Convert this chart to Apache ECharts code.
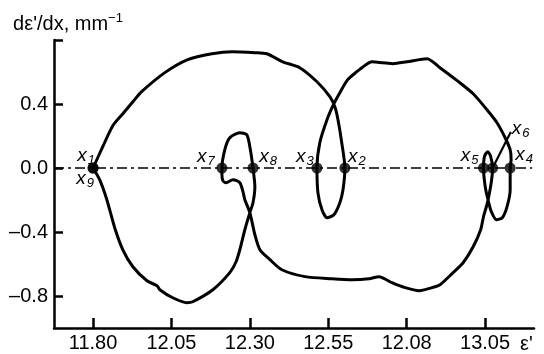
<!DOCTYPE html>
<html>
<head>
<meta charset="utf-8">
<script src="https://cdn.jsdelivr.net/npm/echarts@6/dist/echarts.min.js"></script>
<style>html,body{margin:0;padding:0;background:#fff;}#c{width:544px;height:354px;}</style>
</head>
<body>
<div id="c"></div>
<script>
// Phase-portrait curve (ε', dε'/dx), traced in order
const curveX = [11.80, 11.831, 11.863, 11.895, 11.927, 11.955, 12.029, 12.102, 12.179, 12.243,
  12.316, 12.354, 12.405, 12.459, 12.514, 12.555, 12.571, 12.581, 12.593, 12.603,
  12.597, 12.587, 12.568, 12.546, 12.530, 12.517, 12.514, 12.523, 12.546, 12.568,
  12.587, 12.612, 12.641, 12.670, 12.689, 12.724, 12.756, 12.801, 12.865, 12.906,
  12.961, 13.012, 13.056, 13.088, 13.114, 13.130, 13.133, 13.130, 13.130, 13.120,
  13.105, 13.086, 13.070, 13.061, 13.051, 13.045, 13.048, 13.058, 13.067, 13.074,
  13.070, 13.061, 13.055, 13.045, 13.036, 13.012, 12.980, 12.948, 12.907, 12.891,
  12.840, 12.795, 12.753, 12.712, 12.680, 12.626, 12.562, 12.476, 12.402, 12.364,
  12.332, 12.316, 12.300, 12.284, 12.278, 12.268, 12.246, 12.224, 12.214, 12.211,
  12.211, 12.220, 12.236, 12.268, 12.290, 12.300, 12.310, 12.316, 12.310, 12.300,
  12.284, 12.268, 12.256, 12.236, 12.182, 12.118, 12.099, 12.054, 12.013, 12.004,
  11.972, 11.927, 11.895, 11.869, 11.844, 11.821, 11.80];
const curveY = [0.00, 0.133, 0.264, 0.339, 0.414, 0.477, 0.596, 0.677, 0.714, 0.727,
  0.721, 0.714, 0.664, 0.627, 0.539, 0.446, 0.383, 0.302, 0.158, 0.00,
  -0.136, -0.217, -0.292, -0.311, -0.261, -0.154, 0.00, 0.158, 0.302, 0.402,
  0.471, 0.552, 0.602, 0.646, 0.664, 0.658, 0.652, 0.664, 0.683, 0.627,
  0.546, 0.464, 0.364, 0.283, 0.189, 0.114, 0.052, 0.00, -0.136, -0.242,
  -0.311, -0.323, -0.273, -0.211, -0.123, 0.00, 0.071, 0.102, 0.077, 0.00,
  -0.086, -0.186, -0.236, -0.304, -0.386, -0.492, -0.592, -0.654, -0.729, -0.742,
  -0.767, -0.748, -0.717, -0.679, -0.692, -0.698, -0.692, -0.679, -0.636, -0.573,
  -0.511, -0.417, -0.279, -0.198, -0.148, -0.092, -0.073, -0.092, -0.079, -0.042,
  0.00, 0.114, 0.189, 0.221, 0.208, 0.133, 0.00, -0.117, -0.217, -0.279,
  -0.386, -0.511, -0.586, -0.654, -0.761, -0.836, -0.842, -0.811, -0.761, -0.736,
  -0.705, -0.617, -0.511, -0.373, -0.198, -0.073, 0.00];

// Marked points x1..x9 on the ε' axis
const pointNames = ['1', '2', '3', '4', '5', '6', '7', '8', '9'];
const pointX = [11.80, 12.603, 12.514, 13.130, 13.045, 13.074, 12.211, 12.310, 11.80];
const pointY = [0, 0, 0, 0, 0, 0, 0, 0, 0];

// Leader from point x6 to its label
const leaderX = [13.074, 13.132];
const leaderY = [0, 0.225];

// Axes
const xTickValues = [11.80, 12.05, 12.30, 12.55, 12.80, 13.05];
const xTickLabels = ['11.80', '12.05', '12.30', '12.55', '12.08', '13.05'];
const yTickValues = [-0.8, -0.4, 0.0, 0.4, 0.8];
const yLabelValues = [-0.8, -0.4, 0.0, 0.4];
const yTickLabels = ['\u20130.8', '\u20130.4', '0.0', '0.4'];

const FONT = "'Liberation Sans', Arial, sans-serif";
const labelOffsets = {
  '1': [-7, -12], '9': [-8, 11], '7': [-16, -11], '8': [15, -11],
  '3': [-12, -11], '2': [12, -11], '5': [-14, -12], '4': [14, -13], '6': [28, -39]
};

const chart = echarts.init(document.getElementById('c'), null, {renderer: 'canvas'});
const XMIN = 11.6755, XMAX = 13.206;

const option = {
  animation: false,
  backgroundColor: '#fff',
  grid: {left: 54, right: 10, top: 40, bottom: 26, containLabel: false, outerBoundsMode: 'none'},
  xAxis: {
    type: 'value', min: XMIN, max: XMAX,
    name: "\u03b5'", nameLocation: 'end', nameGap: -14,
    nameTextStyle: {fontFamily: FONT, fontSize: 20, color: '#000', align: 'left', verticalAlign: 'top', padding: [6, 0, 0, 0]},
    axisLine: {show: true, onZero: false, lineStyle: {color: '#000', width: 2.5}},
    axisTick: {show: true, inside: true, length: 10, customValues: xTickValues, lineStyle: {color: '#000', width: 2.5}},
    axisLabel: {
      show: true, customValues: xTickValues, margin: 5,
      fontFamily: FONT, fontSize: 20, color: '#000',
      formatter: function (v) {
        let best = 0;
        for (let i = 0; i < xTickValues.length; i++) if (Math.abs(xTickValues[i] - v) < Math.abs(xTickValues[best] - v)) best = i;
        return xTickLabels[best];
      }
    },
    splitLine: {show: false}
  },
  yAxis: {
    type: 'value', min: -1.0, max: 0.8,
    name: "d\u03b5'/dx, mm{sup|\u22121}", nameLocation: 'end', nameGap: 3,
    nameTextStyle: {
      fontFamily: FONT, fontSize: 20, color: '#000', align: 'center', padding: [0, 0, 0, 28],
      rich: {sup: {fontFamily: FONT, fontSize: 13, color: '#000', padding: [0, 0, 12, 0]}}
    },
    axisLine: {show: true, onZero: false, lineStyle: {color: '#000', width: 2.5}},
    axisTick: {show: true, inside: true, length: 9, customValues: yTickValues, lineStyle: {color: '#000', width: 2.5}},
    axisLabel: {
      show: true, customValues: yLabelValues, margin: 6,
      fontFamily: FONT, fontSize: 20, color: '#000',
      formatter: function (v) {
        let best = 0;
        for (let i = 0; i < yLabelValues.length; i++) if (Math.abs(yLabelValues[i] - v) < Math.abs(yLabelValues[best] - v)) best = i;
        return yTickLabels[best];
      }
    },
    splitLine: {show: false}
  },
  series: [
    {
      type: 'line', silent: true, symbol: 'none', z: 1,
      data: [[XMIN, 0], [13.20, 0]],
      lineStyle: {color: '#000', width: 1.5, type: [10, 4, 3, 4]}
    },
    {
      type: 'line', silent: true, symbol: 'none', smooth: 0.25, z: 3,
      data: curveX.map((x, i) => [x, curveY[i]]),
      lineStyle: {color: '#000', width: 3}
    },
    {
      type: 'line', silent: true, symbol: 'none', z: 3,
      data: leaderX.map((x, i) => [x, leaderY[i]]),
      lineStyle: {color: '#000', width: 2.2}
    },
    {
      type: 'scatter', silent: true, symbol: 'circle', symbolSize: 11, z: 4,
      itemStyle: {color: '#000'},
      data: pointX.map((x, i) => ({
        value: [x, pointY[i]],
        label: {
          show: true, position: 'inside', offset: labelOffsets[pointNames[i]],
          color: '#000', textBorderWidth: 0, opacity: 1,
          formatter: '{i|x}{s|' + pointNames[i] + '}',
          rich: {
            i: {fontFamily: FONT, fontStyle: 'italic', fontSize: 19, color: '#000', textBorderWidth: 0},
            s: {fontFamily: FONT, fontStyle: 'italic', fontSize: 13, color: '#000', textBorderWidth: 0, padding: [8, 0, 0, 1]}
          }
        }
      }))
    }
  ]
};
chart.setOption(option);
</script>
</body>
</html>
